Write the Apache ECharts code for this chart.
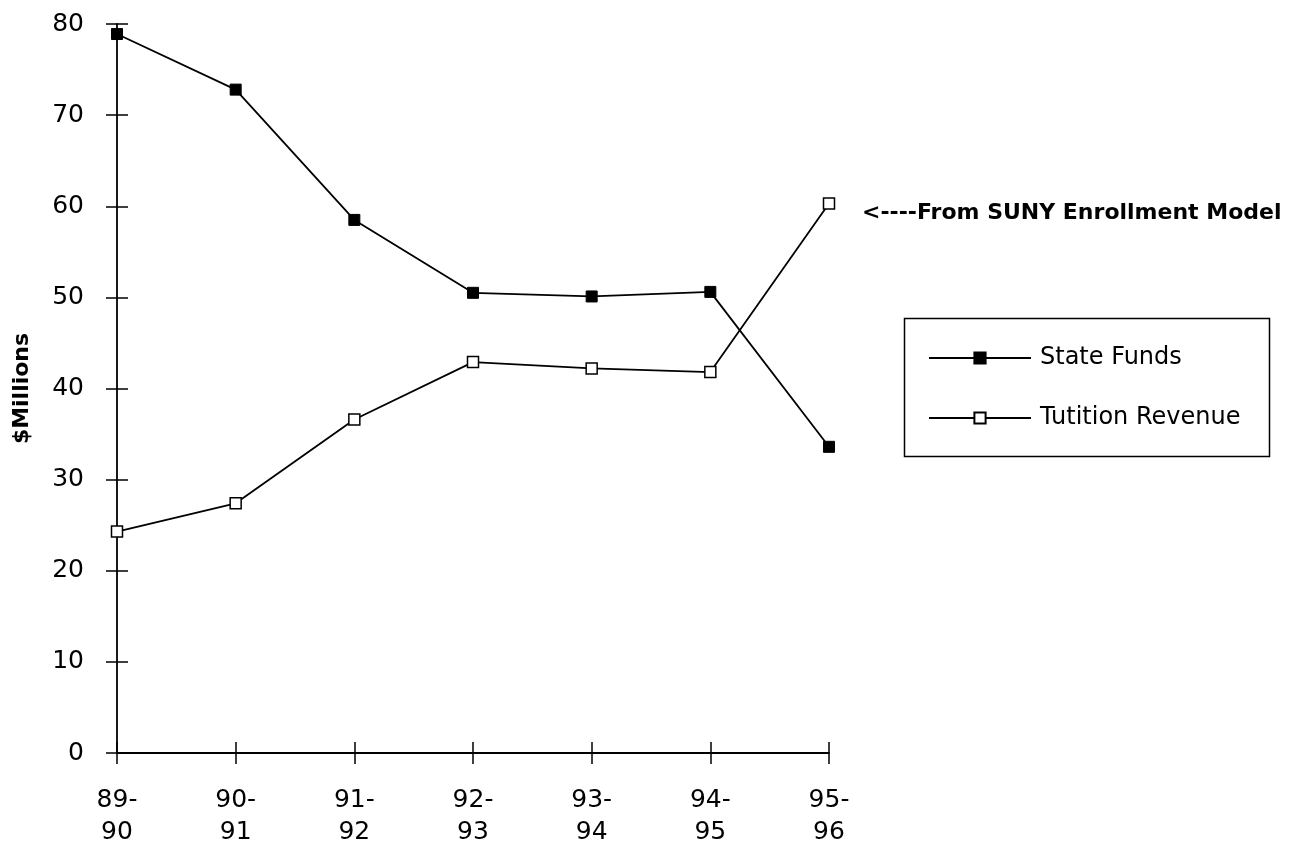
<!DOCTYPE html>
<html>
<head>
<meta charset="utf-8">
<script src="https://cdn.jsdelivr.net/npm/echarts@6/dist/echarts.min.js"></script>
<style>
html,body{margin:0;padding:0;background:#fff;}
#chart{width:1306px;height:853px;}
</style>
</head>
<body>
<div id="chart"></div>
<script>
const categories = ['89-\n90', '90-\n91', '91-\n92', '92-\n93', '93-\n94', '94-\n95', '95-\n96'];
const stateFunds = [78.9, 72.8, 58.5, 50.5, 50.1, 50.6, 33.6];
const tuitionRevenue = [24.3, 27.4, 36.6, 42.9, 42.2, 41.8, 60.3];
const yTicks = { min: 0, max: 80, interval: 10 };
const seriesNames = ['State Funds', 'Tutition Revenue'];
const annotation = '<----From SUNY Enrollment Model';
const yTitle = '$Millions';

const FONT = 'DejaVu Sans';
const chart = echarts.init(document.getElementById('chart'));
chart.setOption({
  backgroundColor: '#fff',
  animation: false,
  grid: { left: 117, right: 477, top: 24, bottom: 100, containLabel: false },
  xAxis: [{
    type: 'category', data: categories, boundaryGap: false,
    axisLine: { show: true, lineStyle: { color: '#000', width: 1.8 } },
    axisTick: { show: true, length: 11, lineStyle: { color: '#000', width: 1.5 } },
    axisLabel: { fontFamily: FONT, fontSize: 25, color: '#000', margin: 31, lineHeight: 32, align: 'center' },
    splitLine: { show: false }
  }, {
    type: 'category', data: categories, boundaryGap: false, position: 'bottom',
    axisLine: { show: false },
    axisTick: { show: true, inside: true, length: 11, lineStyle: { color: '#000', width: 1.5 } },
    axisLabel: { show: false },
    splitLine: { show: false }
  }],
  yAxis: [{
    type: 'value', min: yTicks.min, max: yTicks.max, interval: yTicks.interval,
    name: yTitle, nameLocation: 'middle', nameGap: 84, nameRotate: 90,
    nameTextStyle: { fontFamily: FONT, fontWeight: 'bold', fontSize: 22, color: '#000' },
    axisLine: { show: true, lineStyle: { color: '#000', width: 1.8 } },
    axisTick: { show: true, length: 11, lineStyle: { color: '#000', width: 1.5 } },
    axisLabel: { fontFamily: FONT, fontSize: 25, color: '#000', margin: 33 },
    splitLine: { show: false }
  }, {
    type: 'value', min: yTicks.min, max: yTicks.max, interval: yTicks.interval, position: 'left',
    axisLine: { show: false },
    axisTick: { show: true, inside: true, length: 11, lineStyle: { color: '#000', width: 1.5 } },
    axisLabel: { show: false },
    splitLine: { show: false }
  }],
  legend: {
    orient: 'vertical', left: 923, top: 341,
    itemWidth: 102, itemHeight: 14, itemGap: 36,
    textStyle: { fontFamily: FONT, fontSize: 24, color: '#000', padding: [0, 0, 0, 4] },
    data: seriesNames
  },
  series: [{
    name: seriesNames[0], type: 'line', data: stateFunds,
    symbol: 'rect', symbolSize: 11,
    lineStyle: { color: '#000', width: 1.8 },
    itemStyle: { color: '#000', borderColor: '#000', borderWidth: 1 }
  }, {
    name: seriesNames[1], type: 'line', data: tuitionRevenue,
    symbol: 'rect', symbolSize: 11,
    lineStyle: { color: '#000', width: 1.8 },
    itemStyle: { color: '#fff', borderColor: '#000', borderWidth: 1.5 }
  }],
  graphic: [{
    type: 'rect', left: 902, top: 316,
    shape: { width: 365, height: 138 },
    style: { fill: 'none', stroke: '#000', lineWidth: 1.5 }
  }, {
    type: 'text', left: 862, top: 202,
    style: { text: annotation, fontFamily: FONT, fontWeight: 'bold', fontSize: 22, fill: '#000' }
  }]
});
</script>
</body>
</html>
